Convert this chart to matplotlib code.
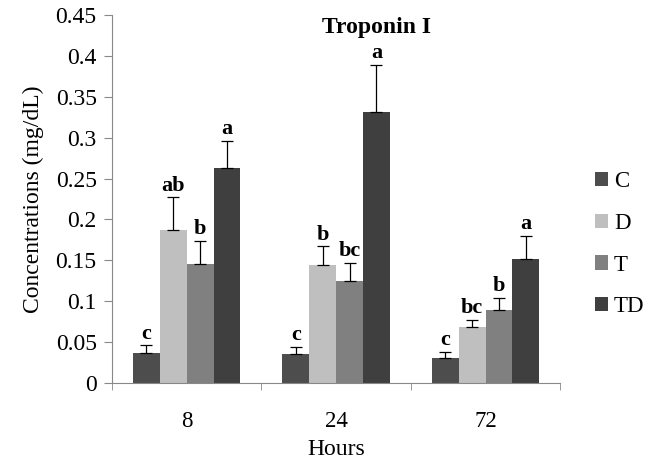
import matplotlib
matplotlib.use('Agg')
import matplotlib.pyplot as plt
import numpy as np

plt.rcParams['font.family'] = ['Liberation Serif', 'DejaVu Serif']

hours = ['8', '24', '72']
groups = ['C', 'D', 'T', 'TD']
means = {
    'C':  [0.037, 0.035, 0.030],
    'D':  [0.187, 0.144, 0.068],
    'T':  [0.146, 0.125, 0.089],
    'TD': [0.263, 0.331, 0.152],
}
errs = {
    'C':  [0.009, 0.009, 0.008],
    'D':  [0.040, 0.023, 0.009],
    'T':  [0.028, 0.022, 0.015],
    'TD': [0.033, 0.058, 0.028],
}
letters = {
    'C':  ['c', 'c', 'c'],
    'D':  ['ab', 'b', 'bc'],
    'T':  ['b', 'bc', 'b'],
    'TD': ['a', 'a', 'a'],
}
farger = {'C': '#4d4d4d', 'D': '#bfbfbf', 'T': '#808080', 'TD': '#3f3f3f'}

fig = plt.figure(figsize=(6.47, 4.59), dpi=100)
ax = fig.add_axes([0.173, 0.166, 0.693, 0.801])

x = np.arange(len(hours))
w = 0.18
for i, g in enumerate(groups):
    pos = x + (i - 1.5) * w
    ax.bar(pos, means[g], w, color=farger[g], label=g,
           yerr=[np.zeros(3), errs[g]], error_kw=dict(ecolor='black', elinewidth=0.9, capsize=4.5, capthick=0.9))
    for p, m, e, t in zip(pos, means[g], errs[g], letters[g]):
        ax.text(p, m + e + 0.002, t, ha='center', va='bottom', fontsize=16, fontweight='bold')

ax.set_xlim(-0.5, 2.5)
ax.set_ylim(0, 0.45)
ax.set_yticks(np.arange(0, 0.451, 0.05))
ax.yaxis.set_major_formatter(matplotlib.ticker.FuncFormatter(lambda v, p: '%g' % round(v, 2)))
ax.set_xticks(x)
ax.set_xticklabels(hours)
ax.tick_params(axis='x', which='major', length=0, pad=20.5, labelsize=16.5)
ax.set_xticks([-0.5, 0.5, 1.5, 2.5], minor=True)
ax.tick_params(axis='x', which='minor', length=5, color='#888888')
ax.tick_params(axis='y', length=6, pad=5, color='#888888', labelsize=17)
ax.spines['top'].set_visible(False)
ax.spines['right'].set_visible(False)
ax.spines['left'].set_color('#888888')
ax.spines['bottom'].set_color('#888888')

ax.set_xlabel('Hours', fontsize=17, labelpad=4.5)
ax.set_ylabel('Concentrations (mg/dL)', fontsize=17, labelpad=8)
ax.text(0.589, 0.967, 'Troponin I', transform=ax.transAxes, ha='center', va='center',
        fontsize=17, fontweight='bold')

fig.legend(loc='center left', bbox_to_anchor=(0.919, 0.468), frameon=False, fontsize=16.5,
           handlelength=0.6, handleheight=0.6, handletextpad=0.25, labelspacing=0.9,
           borderaxespad=0, borderpad=0)

fig.savefig('out.png', dpi=100)
